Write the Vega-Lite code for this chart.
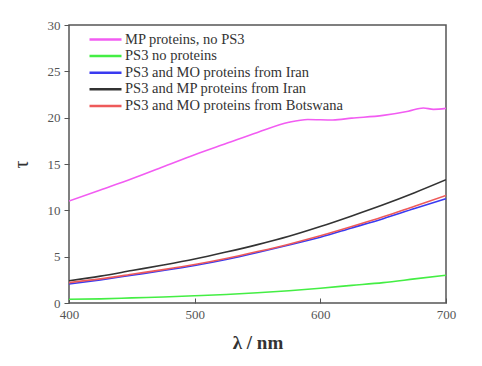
{
  "$schema": "https://vega.github.io/schema/vega-lite/v6.json",
  "autosize": "none",
  "width": 377,
  "height": 278,
  "padding": {"left": 69, "top": 25, "right": 36, "bottom": 63},
  "background": "white",
  "config": {
    "view": {"stroke": "#555555", "strokeWidth": 1.5},
    "font": "Liberation Serif"
  },
  "data": {"values": [
    {"s": "MP proteins, no PS3", "x": 400, "y": 11.0},
    {"s": "MP proteins, no PS3", "x": 425, "y": 12.2},
    {"s": "MP proteins, no PS3", "x": 450, "y": 13.4},
    {"s": "MP proteins, no PS3", "x": 475, "y": 14.7},
    {"s": "MP proteins, no PS3", "x": 500, "y": 16.0},
    {"s": "MP proteins, no PS3", "x": 525, "y": 17.2},
    {"s": "MP proteins, no PS3", "x": 550, "y": 18.4},
    {"s": "MP proteins, no PS3", "x": 575, "y": 19.5},
    {"s": "MP proteins, no PS3", "x": 590, "y": 19.8},
    {"s": "MP proteins, no PS3", "x": 610, "y": 19.75},
    {"s": "MP proteins, no PS3", "x": 625, "y": 19.95},
    {"s": "MP proteins, no PS3", "x": 650, "y": 20.25},
    {"s": "MP proteins, no PS3", "x": 670, "y": 20.7},
    {"s": "MP proteins, no PS3", "x": 682, "y": 21.05},
    {"s": "MP proteins, no PS3", "x": 690, "y": 20.9},
    {"s": "MP proteins, no PS3", "x": 700, "y": 21.0},
    {"s": "PS3 no proteins", "x": 400, "y": 0.4},
    {"s": "PS3 no proteins", "x": 425, "y": 0.45},
    {"s": "PS3 no proteins", "x": 450, "y": 0.55},
    {"s": "PS3 no proteins", "x": 475, "y": 0.65},
    {"s": "PS3 no proteins", "x": 500, "y": 0.78},
    {"s": "PS3 no proteins", "x": 525, "y": 0.92},
    {"s": "PS3 no proteins", "x": 550, "y": 1.1},
    {"s": "PS3 no proteins", "x": 575, "y": 1.33},
    {"s": "PS3 no proteins", "x": 600, "y": 1.6},
    {"s": "PS3 no proteins", "x": 625, "y": 1.9},
    {"s": "PS3 no proteins", "x": 650, "y": 2.2},
    {"s": "PS3 no proteins", "x": 675, "y": 2.6},
    {"s": "PS3 no proteins", "x": 700, "y": 3.0},
    {"s": "PS3 and MO proteins from Iran", "x": 400, "y": 2.05},
    {"s": "PS3 and MO proteins from Iran", "x": 425, "y": 2.5},
    {"s": "PS3 and MO proteins from Iran", "x": 450, "y": 3.0},
    {"s": "PS3 and MO proteins from Iran", "x": 475, "y": 3.5},
    {"s": "PS3 and MO proteins from Iran", "x": 500, "y": 4.05},
    {"s": "PS3 and MO proteins from Iran", "x": 525, "y": 4.7},
    {"s": "PS3 and MO proteins from Iran", "x": 550, "y": 5.45},
    {"s": "PS3 and MO proteins from Iran", "x": 575, "y": 6.25},
    {"s": "PS3 and MO proteins from Iran", "x": 600, "y": 7.1},
    {"s": "PS3 and MO proteins from Iran", "x": 625, "y": 8.1},
    {"s": "PS3 and MO proteins from Iran", "x": 650, "y": 9.1},
    {"s": "PS3 and MO proteins from Iran", "x": 675, "y": 10.2},
    {"s": "PS3 and MO proteins from Iran", "x": 700, "y": 11.25},
    {"s": "PS3 and MP proteins from Iran", "x": 400, "y": 2.4},
    {"s": "PS3 and MP proteins from Iran", "x": 425, "y": 2.9},
    {"s": "PS3 and MP proteins from Iran", "x": 450, "y": 3.5},
    {"s": "PS3 and MP proteins from Iran", "x": 475, "y": 4.1},
    {"s": "PS3 and MP proteins from Iran", "x": 500, "y": 4.75},
    {"s": "PS3 and MP proteins from Iran", "x": 525, "y": 5.5},
    {"s": "PS3 and MP proteins from Iran", "x": 550, "y": 6.3},
    {"s": "PS3 and MP proteins from Iran", "x": 575, "y": 7.2},
    {"s": "PS3 and MP proteins from Iran", "x": 600, "y": 8.25},
    {"s": "PS3 and MP proteins from Iran", "x": 625, "y": 9.4},
    {"s": "PS3 and MP proteins from Iran", "x": 650, "y": 10.6},
    {"s": "PS3 and MP proteins from Iran", "x": 675, "y": 11.9},
    {"s": "PS3 and MP proteins from Iran", "x": 700, "y": 13.3},
    {"s": "PS3 and MO proteins from Botswana", "x": 400, "y": 2.2},
    {"s": "PS3 and MO proteins from Botswana", "x": 425, "y": 2.6},
    {"s": "PS3 and MO proteins from Botswana", "x": 450, "y": 3.1},
    {"s": "PS3 and MO proteins from Botswana", "x": 475, "y": 3.6},
    {"s": "PS3 and MO proteins from Botswana", "x": 500, "y": 4.15},
    {"s": "PS3 and MO proteins from Botswana", "x": 525, "y": 4.8},
    {"s": "PS3 and MO proteins from Botswana", "x": 550, "y": 5.55},
    {"s": "PS3 and MO proteins from Botswana", "x": 575, "y": 6.35},
    {"s": "PS3 and MO proteins from Botswana", "x": 600, "y": 7.25},
    {"s": "PS3 and MO proteins from Botswana", "x": 625, "y": 8.25},
    {"s": "PS3 and MO proteins from Botswana", "x": 650, "y": 9.3},
    {"s": "PS3 and MO proteins from Botswana", "x": 675, "y": 10.45},
    {"s": "PS3 and MO proteins from Botswana", "x": 700, "y": 11.6}
  ]},
  "mark": {"type": "line", "interpolate": "monotone", "strokeWidth": 1.6, "clip": true},
  "encoding": {
    "x": {
      "field": "x", "type": "quantitative",
      "scale": {"domain": [400, 700], "nice": false},
      "axis": {
        "values": [400, 500, 600, 700], "title": "λ / nm", "grid": false,
        "domain": false, "tickSize": -5, "tickColor": "#555555",
        "labelFont": "Liberation Serif", "labelFontSize": 13, "labelColor": "#555555",
        "labelPadding": 10, "labelFlush": false,
        "titleFont": "Liberation Serif", "titleFontSize": 19, "titleFontWeight": "bold",
        "titleColor": "#333333", "titlePadding": 12
      }
    },
    "y": {
      "field": "y", "type": "quantitative",
      "scale": {"domain": [0, 30], "nice": false},
      "axis": {
        "values": [0, 5, 10, 15, 20, 25, 30], "title": "τ", "grid": false,
        "domain": false, "tickSize": 5, "tickColor": "#555555",
        "labelFont": "Liberation Serif", "labelFontSize": 13, "labelColor": "#555555",
        "labelPadding": 4,
        "titleFont": "Liberation Serif", "titleFontSize": 20, "titleFontWeight": "normal",
        "titleColor": "#333333", "titlePadding": 16
      }
    },
    "color": {
      "field": "s", "type": "nominal",
      "scale": {
        "domain": ["MP proteins, no PS3", "PS3 no proteins", "PS3 and MO proteins from Iran", "PS3 and MP proteins from Iran", "PS3 and MO proteins from Botswana"],
        "range": ["#f25cf2", "#44ee44", "#3a3af0", "#333333", "#ee5a5a"]
      },
      "legend": {
        "title": null, "orient": "none", "legendX": 19, "legendY": 5,
        "symbolType": "M-1,0H3", "symbolSize": 256, "symbolStrokeWidth": 2.5,
        "symbolFillColor": "transparent",
        "labelFont": "Liberation Serif", "labelFontSize": 14.5, "labelColor": "#333333",
        "labelFontWeight": "normal",
        "labelLimit": 400, "rowPadding": 0.6, "labelOffset": 18
      }
    }
  }
}
